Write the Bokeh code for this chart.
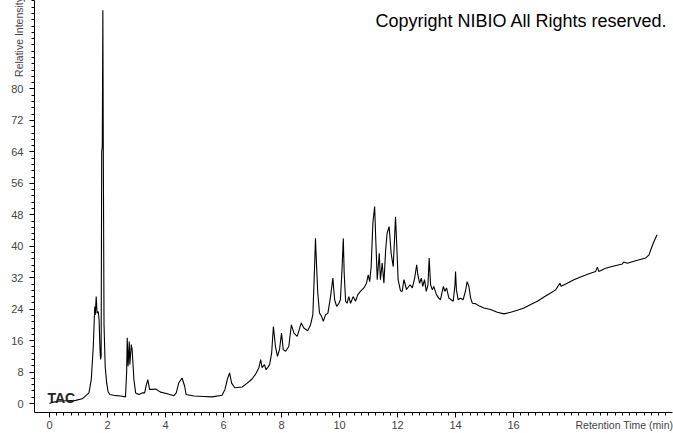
import numpy as np
from bokeh.plotting import figure
from bokeh.models import Label, FixedTicker, Range1d
from bokeh.embed import file_html
from bokeh.resources import INLINE

# Retention time (min) and relative intensity of the TAC chromatogram
time_min = [
    0.0, 0.1, 0.3, 0.6, 0.9, 1.13, 1.36, 1.44, 1.51, 1.56, 1.58, 1.61, 1.64, 1.68, 1.71, 1.74, 1.76,
    1.78, 1.80, 1.82, 1.84, 1.855, 1.88, 1.92, 1.97, 2.02, 2.08, 2.3, 2.45, 2.62, 2.66, 2.68, 2.71,
    2.75, 2.77, 2.82, 2.85, 2.91, 2.97, 3.08, 3.2, 3.28, 3.34, 3.39, 3.45, 3.54, 3.66, 3.83, 4.06,
    4.29, 4.37, 4.46, 4.57, 4.66, 4.71, 4.98, 5.3, 5.61, 5.95, 6.05, 6.13, 6.21, 6.28, 6.39, 6.64,
    6.82, 6.99, 7.1, 7.22, 7.28, 7.33, 7.41, 7.47, 7.59, 7.66, 7.72, 7.79, 7.86, 7.93, 8.0, 8.06,
    8.14, 8.25, 8.34, 8.43, 8.54, 8.68, 8.77, 8.9, 9.0, 9.08, 9.14, 9.17, 9.21, 9.25, 9.31, 9.38,
    9.44, 9.52, 9.6, 9.69, 9.77, 9.83, 9.9, 9.98, 10.03, 10.09, 10.13, 10.16, 10.21, 10.26, 10.32,
    10.38, 10.47, 10.55, 10.63, 10.72, 10.84, 10.93, 10.99, 11.04, 11.09, 11.15, 11.21, 11.25, 11.3,
    11.37, 11.41, 11.47, 11.53, 11.59, 11.64, 11.71, 11.78, 11.85, 11.9, 11.93, 11.97, 12.02, 12.1,
    12.16, 12.22, 12.31, 12.43, 12.51, 12.59, 12.66, 12.7, 12.76, 12.82, 12.87, 12.93, 12.99, 13.05,
    13.09, 13.14, 13.2, 13.25, 13.34, 13.42, 13.48, 13.58, 13.63, 13.69, 13.77, 13.85, 13.92, 13.98,
    14.0, 14.03, 14.09, 14.17, 14.26, 14.34, 14.4, 14.46, 14.52, 14.58, 14.69, 14.8, 14.98, 15.21,
    15.44, 15.67, 15.9, 16.13, 16.36, 16.59, 16.82, 17.05, 17.28, 17.45, 17.6, 17.64, 17.85, 18.08,
    18.31, 18.6, 18.83, 18.89, 18.94, 19.17, 19.46, 19.75, 19.8, 19.92, 20.21, 20.55, 20.67, 20.75,
    20.84, 20.95,
]
intensity = [
    0.0, 0.3, 0.6, 0.7, 0.8, 1.2, 2.7, 6.1, 14.5, 24.7, 22.5, 27.2, 23.0, 23.4, 21.3, 14.0, 11.2,
    12.0, 64.0, 65.5, 100.0, 65.0, 20.0, 9.4, 5.3, 3.0, 2.3, 2.0, 1.9, 1.7, 8.0, 16.7, 9.5,
    15.8, 9.9, 15.0, 13.7, 6.1, 2.7, 2.3, 2.7, 2.7, 4.8, 6.1, 3.6, 3.6, 3.7, 2.9, 2.5,
    2.0, 2.7, 5.3, 6.5, 4.4, 2.3, 1.9, 1.8, 1.7, 2.1, 3.6, 6.1, 7.8, 5.2, 4.0, 4.2,
    5.2, 6.3, 7.4, 9.1, 11.2, 9.1, 9.9, 8.6, 9.9, 12.9, 19.6, 14.5, 12.0, 13.7, 17.9, 13.7,
    13.3, 14.5, 20.0, 17.9, 17.1, 20.5, 19.2, 18.5, 20.0, 22.6, 34.8, 42.0, 34.8, 28.1, 23.0, 22.2,
    20.9, 22.6, 23.0, 27.2, 31.9, 26.4, 24.7, 25.5, 26.4, 34.8, 42.0, 33.2, 26.0, 25.5, 27.2,
    25.5, 27.2, 26.0, 27.7, 28.5, 29.4, 30.6, 32.7, 31.0, 34.8, 45.9, 50.1, 41.6, 31.5,
    38.2, 31.5, 35.7, 30.6, 39.1, 43.3, 45.0, 38.2, 34.8, 42.5, 47.5, 40.8, 31.5, 28.7,
    28.5, 31.5, 29.0, 30.2, 29.4, 31.9, 35.3, 32.7, 30.6, 31.9, 29.8, 31.5, 28.5, 30.2,
    37.0, 30.2, 28.9, 29.8, 27.7, 26.8, 26.4, 29.8, 28.5, 29.4, 26.8, 26.4, 26.0, 30.2,
    33.6, 28.9, 26.4, 26.8, 26.4, 28.5, 31.0, 29.8, 26.8, 25.5, 25.4, 24.9, 24.3, 23.9,
    23.2, 22.8, 23.2, 23.7, 24.3, 25.2, 26.0, 27.1, 28.1, 28.9, 30.6, 29.8, 30.6, 31.5,
    32.2, 33.0, 33.6, 34.7, 33.6, 34.4, 35.0, 35.5, 36.0, 35.7, 36.3, 37.0, 37.8, 39.5,
    41.2, 42.9,
]

x_major = [0, 2, 4, 6, 8, 10, 12, 14, 16]
y_major = [0, 8, 16, 24, 32, 40, 48, 56, 64, 72, 80]
x_label = "Retention Time (min)"
y_label = "Relative Intensity"
trace_name = "TAC"
copyright_text = "Copyright NIBIO All Rights reserved."

NBSP = "\u00a0"

p = figure(width=673, height=433, output_backend="svg", toolbar_location=None,
           x_range=Range1d(-0.517, 21.48), y_range=Range1d(-2.28, 102.5),
           min_border_left=34, min_border_right=1, min_border_top=0, min_border_bottom=20)
p.outline_line_color = None
p.xgrid.grid_line_color = None
p.ygrid.grid_line_color = None
p.background_fill_color = "white"
p.border_fill_color = "white"

p.line(time_min, intensity, line_color="black", line_width=1.1)

x_minor = list(np.arange(0, 21.5, 0.25))
y_minor = list(np.arange(0, 102.5, 1.6))
p.xaxis.ticker = FixedTicker(ticks=x_major, minor_ticks=x_minor)
p.yaxis.ticker = FixedTicker(ticks=y_major, minor_ticks=y_minor)

for ax in (p.xaxis, p.yaxis):
    ax.axis_line_color = "black"
    ax.major_tick_line_color = "black"
    ax.minor_tick_line_color = "black"
    ax.major_tick_out = 5
    ax.major_tick_in = 0
    ax.minor_tick_out = 3
    ax.minor_tick_in = 0
    ax.major_label_text_font = "Liberation Sans"
    ax.major_label_text_font_size = "11px"
    ax.major_label_text_color = "#444444"
    ax.axis_label_text_font = "Liberation Sans"
    ax.axis_label_text_font_size = "10.5px"
    ax.axis_label_text_font_style = "normal"
    ax.axis_label_text_color = "#444444"
p.xaxis.major_label_standoff = 3
p.yaxis.major_label_standoff = 6

# labels sit at the far end of each axis (centre-anchored, so padded with trailing no-break spaces)
p.xaxis.axis_label = x_label + NBSP * 33
p.yaxis.axis_label = y_label + NBSP * 25
p.xaxis.axis_label_standoff = -13
p.yaxis.axis_label_standoff = -17
for ax in (p.xaxis, p.yaxis):
    try:
        ax.axis_label_align = "end"
    except Exception:
        pass

p.add_layout(Label(x=-0.07, y=1.5, text=trace_name, text_font="Liberation Sans",
                   text_font_size="14px", text_font_style="bold", text_color="#222222",
                   text_align="left", text_baseline="alphabetic"))
p.add_layout(Label(x=21.31, y=97.2, text=copyright_text, text_font="Liberation Sans",
                   text_font_size="18px", text_color="black",
                   text_align="right", text_baseline="alphabetic"))

open("out.html", "w").write(file_html(p, INLINE))
